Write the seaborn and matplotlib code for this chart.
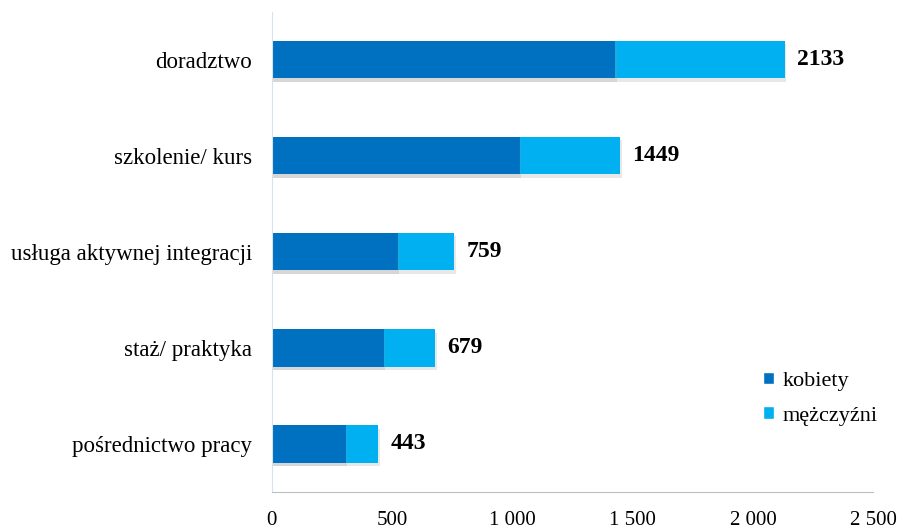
import matplotlib
matplotlib.use("Agg")
import matplotlib.pyplot as plt
import matplotlib.patheffects as pe
from matplotlib.patches import Patch
import seaborn as sns
import pandas as pd

# dane
categories = ["doradztwo", "szkolenie/ kurs", "usługa aktywnej integracji",
              "staż/ praktyka", "pośrednictwo pracy"]
kobiety = [1428, 1030, 523, 465, 307]
mezczyzni = [705, 419, 236, 214, 136]
x_ticks = [0, 500, 1000, 1500, 2000, 2500]
x_tick_labels = ["0", "500", "1 000", "1 500", "2 000", "2 500"]

col_k = "#0070C0"
col_m = "#00B0F0"

df = pd.DataFrame({"kategoria": categories, "kobiety": kobiety, "mezczyzni": mezczyzni})
df["razem"] = df["kobiety"] + df["mezczyzni"]

sns.set_style("white")
plt.rcParams["font.family"] = ["Liberation Serif", "DejaVu Serif"]
plt.rcParams.update({"text.color": "black", "xtick.labelcolor": "black",
                     "ytick.labelcolor": "black"})

fig = plt.figure(figsize=(9.03, 5.30), dpi=100)
ax = fig.add_axes([0.301, 0.072, 0.666, 0.906])

shadow = [pe.SimplePatchShadow(offset=(1, -2.5), shadow_rgbFace="#9a9a9a", alpha=0.22), pe.Normal()]

# suma (jasny) pod spodem, kobiety (ciemny) na wierzchu
sns.barplot(data=df, y="kategoria", x="razem", color=col_m, orient="h",
            width=0.39, saturation=1, ax=ax)
sns.barplot(data=df, y="kategoria", x="kobiety", color=col_k, orient="h",
            width=0.39, saturation=1, ax=ax)
for p in ax.patches:
    p.set_path_effects(shadow)
    p.set_linewidth(0)

for i, tot in enumerate(df["razem"]):
    ax.text(tot + 50, i, str(tot), va="center", ha="left",
            fontsize=17, fontweight="bold")

ax.set_xlim(0, 2500)
ax.set_ylim(4.5, -0.5)
ax.set_xticks(x_ticks)
ax.set_xticklabels(x_tick_labels, fontsize=15)
ax.tick_params(axis="x", direction="in", length=6, width=1, color="#BFBFBF", pad=14)
ax.tick_params(axis="y", length=0, pad=14, labelsize=16.5)
ax.set_xlabel("")
ax.set_ylabel("")

for s in ["top", "right"]:
    ax.spines[s].set_visible(False)
ax.spines["bottom"].set_color("#BFBFBF")
ax.spines["left"].set_color("#D6E2F0")

handles = [Patch(facecolor=col_k, label="kobiety"), Patch(facecolor=col_m, label="mężczyźni")]
fig.legend(handles=handles, loc="center left", bbox_to_anchor=(0.835, 0.248),
           frameon=False, fontsize=16, handlelength=0.5, handleheight=0.5,
           handletextpad=0.4, labelspacing=0.7, borderaxespad=0)

fig.savefig("out.png", dpi=100)
